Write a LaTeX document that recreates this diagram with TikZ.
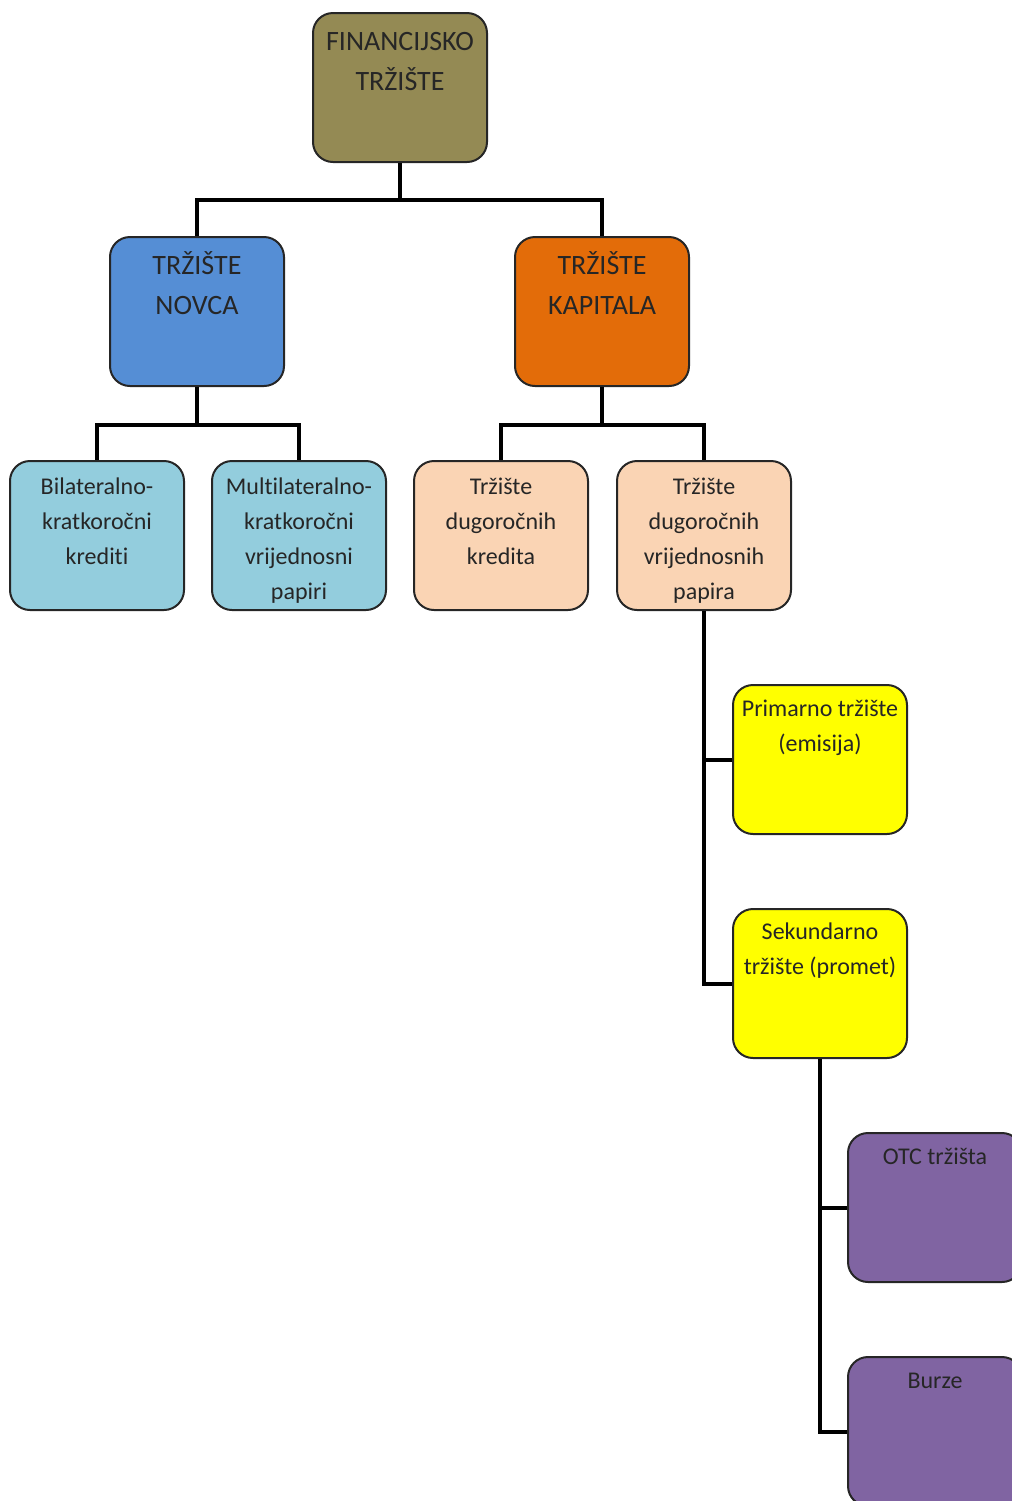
\documentclass[tikz,border=0pt]{standalone}
\usepackage{fontspec}
\setmainfont{Carlito}[Ligatures=NoCommon]
\usepackage{xcolor}
\usetikzlibrary{positioning}

\definecolor{olivebox}{RGB}{148,138,84}
\definecolor{bluebox}{RGB}{85,142,213}
\definecolor{orangebox}{RGB}{227,108,9}
\definecolor{cyanbox}{RGB}{147,205,221}
\definecolor{peachbox}{RGB}{250,212,180}
\definecolor{yellowbox}{RGB}{255,255,0}
\definecolor{purplebox}{RGB}{128,100,162}

\tikzset{
  box/.style={draw=black!85, line width=1pt, rounded corners=10pt,
    minimum width=87pt, minimum height=74.5pt, inner sep=0pt},
  bigtxt/.style={align=center, inner sep=0pt, text=black!85,
    font=\fontsize{14pt}{20pt}\selectfont},
  smalltxt/.style={align=center, inner sep=0pt, text=black!85,
    font=\fontsize{12pt}{17.5pt}\selectfont},
  link/.style={line width=2pt, black}
}

\begin{document}
\begin{tikzpicture}[x=0.5pt, y=-0.5pt]
  \useasboundingbox (0,0) rectangle (1012,1501);
  % boxes
  \node[box, fill=olivebox]  (fin)   at (400,87.5)  {};
  \node[box, fill=bluebox]   (novca) at (197,311.5) {};
  \node[box, fill=orangebox] (kap)   at (602,311.5) {};
  \node[box, fill=cyanbox]   (bil)   at (97,535.5)  {};
  \node[box, fill=cyanbox]   (mul)   at (299,535.5) {};
  \node[box, fill=peachbox]  (kred)  at (501,535.5) {};
  \node[box, fill=peachbox]  (pap)   at (704,535.5) {};
  \node[box, fill=yellowbox] (prim)  at (820,759.5) {};
  \node[box, fill=yellowbox] (sek)   at (820,983.5) {};
  \node[box, fill=purplebox] (otc)   at (935,1207.5) {};
  \node[box, fill=purplebox] (burze) at (935,1431.5) {};
  % texts
  \node[bigtxt, below=5pt of fin.north]   (finT)   {\strut FINANCIJSKO\\TRŽIŠTE};
  \node[bigtxt, below=5pt of novca.north] (novcaT) {\strut TRŽIŠTE\\NOVCA};
  \node[bigtxt, below=5pt of kap.north]   (kapT)   {\strut TRŽIŠTE\\KAPITALA};
  \node[smalltxt, below=5pt of bil.north]  (bilT)  {\strut Bilateralno-\\kratkoročni\\krediti};
  \node[smalltxt, below=5pt of mul.north]  (mulT)  {\strut Multilateralno-\\kratkoročni\\vrijednosni\\papiri};
  \node[smalltxt, below=5pt of kred.north] (kredT) {\strut Tržište\\dugoročnih\\kredita};
  \node[smalltxt, below=5pt of pap.north]  (papT)  {\strut Tržište\\dugoročnih\\vrijednosnih\\papira};
  \node[smalltxt, below=4pt of prim.north]  (primT)  {\strut Primarno tržište\\(emisija)};
  \node[smalltxt, below=3.5pt of sek.north] (sekT)   {\strut Sekundarno\\tržište (promet)};
  \node[smalltxt, below=4pt of otc.north]   (otcT)   {\strut OTC tržišta};
  \node[smalltxt, below=4pt of burze.north] (burzeT) {\strut Burze};
  % connectors
  \draw[link] (fin.south) -- ++(0,37) -| (novca.north);
  \draw[link] (fin.south) -- ++(0,37) -| (kap.north);
  \draw[link] (novca.south) -- ++(0,38) -| (bil.north);
  \draw[link] (novca.south) -- ++(0,38) -| (mul.north);
  \draw[link] (kap.south) -- ++(0,38) -| (kred.north);
  \draw[link] (kap.south) -- ++(0,38) -| (pap.north);
  \draw[link] (pap.south) |- (prim.west);
  \draw[link] (pap.south) |- (sek.west);
  \draw[link] (sek.south) |- (otc.west);
  \draw[link] (sek.south) |- (burze.west);
\end{tikzpicture}
\end{document}
